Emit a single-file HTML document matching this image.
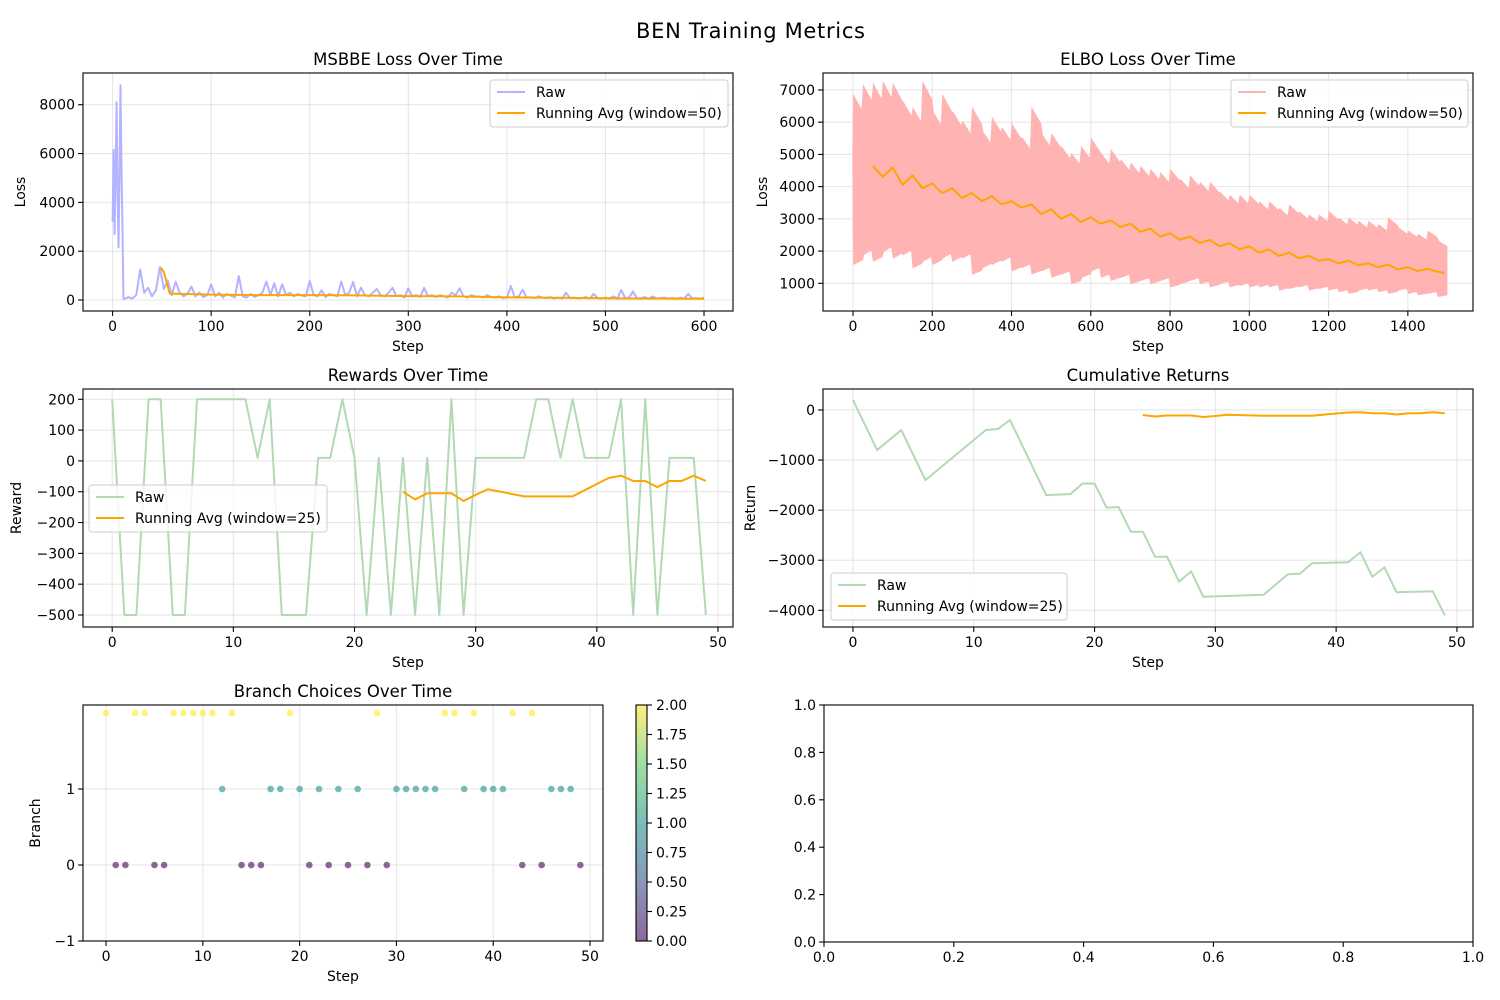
<!DOCTYPE html>
<html>
<head>
<meta charset="utf-8">
<style>
html,body{margin:0;padding:0;background:#fff;}
svg{display:block;font-family:"DejaVu Sans","Liberation Sans",sans-serif;}
</style>
</head>
<body>
<svg id="fig" width="1500" height="1000" viewBox="0 0 1500 1000" xmlns="http://www.w3.org/2000/svg">
<defs>
<linearGradient id="viridis" x1="0" y1="1" x2="0" y2="0">
<stop offset="0" stop-color="#440154"/>
<stop offset="0.25" stop-color="#3b528b"/>
<stop offset="0.5" stop-color="#21918c"/>
<stop offset="0.75" stop-color="#5ec962"/>
<stop offset="1" stop-color="#fde725"/>
</linearGradient>
</defs>
<text x="750.5" y="38" font-size="21" text-anchor="middle" textLength="229">BEN Training Metrics</text>
</svg>
<script>
// ---------- MSBBE data ----------
const msbbeEarlySteps = [0,1,2,3,4,5,6,7,8,9,10,11];
const msbbeEarlyVals = [3200,6150,2700,5000,8100,4500,2150,5000,8800,5500,3000,50];
const msbbeStepStart = 12, msbbeStepEvery = 4;
const msbbeVals = [
50,120,60,200,1250,300,500,150,400,1350,
450,800,200,750,300,150,250,550,150,300,
120,200,640,150,300,100,250,180,100,980,
150,100,250,120,200,300,760,200,680,150,
640,200,300,150,250,180,150,780,200,150,
400,120,250,200,150,750,200,300,740,150,
500,200,150,300,450,200,150,300,500,150,
200,100,480,150,200,120,500,150,200,120,
200,150,100,300,200,480,150,100,200,150,
150,100,200,120,100,150,80,100,570,100,
150,420,100,120,80,150,100,80,120,60,
100,60,300,80,100,60,80,120,60,250,
80,60,100,60,150,60,410,80,100,350,
60,80,120,50,150,60,80,100,60,80,
50,100,60,250,60,80,50,100];
const msbbeAvgSteps = [49,52,55,58,70,100,150,200,250,300,350,400,450,500,550,600];
const msbbeAvgVals = [1330,1150,700,260,250,220,200,200,190,160,150,110,90,70,60,50];

// ---------- ELBO data ----------
const elboBinStart = 0, elboBinEvery = 25;
const elboMax = [6800,7100,7150,7200,7150,6600,6400,7200,6300,6800,6300,6000,6400,5700,6100,5800,5900,5500,6400,5600,5600,5200,5000,5200,5450,5000,5100,4800,4700,4600,4500,4400,4500,4200,4300,4100,4100,3800,3700,3700,3700,3500,3500,3300,3400,3200,3100,3100,3200,3000,3000,2900,2900,2800,3000,2700,2600,2500,2600,2300];
const elboMin = [1600,1900,1700,2000,1800,1900,1500,1700,1600,1800,1700,1800,1300,1500,1600,1700,1400,1500,1300,1400,1200,1300,1000,1200,1400,1200,1100,1200,1000,1100,1000,1100,900,1000,1100,1000,900,1000,900,950,900,900,900,800,850,900,800,850,800,750,700,800,800,750,700,800,700,650,700,600];
const elboStart = [5000];
const elboAvgSteps = [50,75,100,125,150,175,200,225,250,275,300,325,350,375,400,425,450,475,500,525,550,575,600,625,650,675,700,725,750,775,800,825,850,875,900,925,950,975,1000,1025,1050,1075,1100,1125,1150,1175,1200,1225,1250,1275,1300,1325,1350,1375,1400,1425,1450,1475,1492];
const elboAvgVals = [4650,4300,4600,4050,4350,3950,4100,3800,3950,3650,3800,3550,3700,3450,3550,3350,3450,3150,3300,3000,3150,2900,3050,2850,2950,2750,2850,2600,2700,2450,2550,2350,2450,2250,2350,2150,2250,2050,2150,1950,2050,1850,1950,1780,1850,1700,1750,1620,1700,1560,1620,1500,1580,1430,1500,1380,1450,1360,1320];

// ---------- Rewards data ----------
const rewardVals = [200,-500,-500,200,200,-500,-500,200,200,200,200,200,10,200,-500,-500,-500,10,10,200,10,-500,10,-500,10,-500,10,-500,200,-500,10,10,10,10,10,200,200,10,200,10,10,10,200,-500,200,-500,10,10,10,-500];
const rewardAvgSteps = [24,25,26,27,28,29,30,31,34,35,36,37,38,39,40,41,42,43,44,45,46,47,48,49];
const rewardAvgVals = [-100,-125,-105,-105,-105,-130,-110,-92,-115,-115,-115,-115,-115,-95,-75,-55,-48,-65,-65,-85,-65,-65,-48,-65];

// ---------- Cumulative returns ----------
const cumSteps = [0,2,4,6,11,12,13,16,18,19,20,21,22,23,24,25,26,27,28,29,34,36,37,38,41,42,43,44,45,48,49];
const cumVals = [200,-800,-400,-1400,-400,-380,-200,-1700,-1680,-1470,-1470,-1950,-1940,-2430,-2430,-2930,-2930,-3430,-3220,-3730,-3690,-3280,-3270,-3060,-3040,-2840,-3330,-3140,-3640,-3620,-4100];
const cumAvgSteps = [24,25,26,27,28,29,30,31,34,38,40,41,42,43,44,45,46,47,48,49];
const cumAvgVals = [-100,-130,-110,-110,-110,-140,-120,-95,-115,-115,-70,-50,-45,-65,-65,-90,-65,-65,-45,-65];

// ---------- Branch choices ----------
const branchVals = [2,0,0,2,2,0,0,2,2,2,2,2,1,2,0,0,0,1,1,2,1,0,1,0,1,0,1,0,2,0,1,1,1,1,1,2,2,1,2,1,1,1,2,0,2,0,1,1,1,0];
const branchColors = ['#440154','#21918c','#fde725'];
const cbarTicks = ['0.00','0.25','0.50','0.75','1.00','1.25','1.50','1.75','2.00'];

// ---------- tick labels ----------
const t1x = ['0','100','200','300','400','500','600'];
const t1y = ['0','2000','4000','6000','8000'];
const t2x = ['0','200','400','600','800','1000','1200','1400'];
const t2y = ['1000','2000','3000','4000','5000','6000','7000'];
const t3x = ['0','10','20','30','40','50'];
const t3y = ['-500','-400','-300','-200','-100','0','100','200'];
const t4y = ['-4000','-3000','-2000','-1000','0'];
const t5y = ['-1','0','1'];
const t6 = ['0.0','0.2','0.4','0.6','0.8','1.0'];

const NS = 'http://www.w3.org/2000/svg';
const svg = document.getElementById('fig');
function mk(tag, attrs, parent){
  const e = document.createElementNS(NS, tag);
  for (const k in attrs) e.setAttribute(k, attrs[k]);
  (parent||svg).appendChild(e);
  return e;
}
let clipId = 0;
function makeAxes(name, f, lim, xt, yt, grid){
  const g = mk('g', {});
  
  
  const sx = v => f.x0 + (v - lim.x0) / (lim.x1 - lim.x0) * (f.x1 - f.x0);
  const sy = v => f.y1 - (v - lim.y0) / (lim.y1 - lim.y0) * (f.y1 - f.y0);
  // grid
  if (grid){
    xt.forEach(t => {
      const l = mk('line', {x1:sx(+t), x2:sx(+t), y1:f.y0, y2:f.y1, stroke:'#b0b0b0', 'stroke-opacity':0.3, 'stroke-width':1.1}, g);
      
      
    });
    yt.forEach(t => {
      const l = mk('line', {x1:f.x0, x2:f.x1, y1:sy(+t), y2:sy(+t), stroke:'#b0b0b0', 'stroke-opacity':0.3, 'stroke-width':1.1}, g);
      
      
    });
  }
  // ticks
  xt.forEach(t => {
    const x = sx(+t);
    const l = mk('line', {x1:x, x2:x, y1:f.y1, y2:f.y1+4.9, stroke:'#000', 'stroke-width':1.1}, g);
    
    
    const tx = mk('text', {x:x, y:f.y1+20, 'font-size':14, 'text-anchor':'middle'}, g);
    tx.textContent = t;
    
    
  });
  yt.forEach(t => {
    const y = sy(+t);
    const l = mk('line', {x1:f.x0-4.9, x2:f.x0, y1:y, y2:y, stroke:'#000', 'stroke-width':1.1}, g);
    
    
    const tx = mk('text', {x:f.x0-8, y:y+5, 'font-size':14, 'text-anchor':'end'}, g);
    tx.textContent = t.replace('-', '\u2212');
    
    
  });
  clipId++;
  const cp = mk('clipPath', {id:'cp'+clipId}, g);
  mk('rect', {x:f.x0, y:f.y0, width:f.x1-f.x0, height:f.y1-f.y0}, cp);
  const data = mk('g', {'clip-path':'url(#cp'+clipId+')'}, g);
  
  
  return {g, data, sx, sy, f};
}
function frame(ax){
  const f = ax.f;
  const r = mk('rect', {x:f.x0, y:f.y0, width:f.x1-f.x0, height:f.y1-f.y0, fill:'none', stroke:'#000', 'stroke-width':1.1}, ax.g);
  
  
}
function labels(ax, title, xl, yl, ylx){
  const f = ax.f, cx = (f.x0+f.x1)/2;
  const t = mk('text', {x:cx, y:f.y0-8, 'font-size':16.5, 'text-anchor':'middle'}, ax.g);
  t.textContent = title;
  
  
  if (xl){
    const x = mk('text', {x:cx, y:f.y1+40, 'font-size':14, 'text-anchor':'middle'}, ax.g);
    x.textContent = xl;
    
    
  }
  if (yl){
    const cy = (f.y0+f.y1)/2;
    const y = mk('text', {x:ylx, y:cy, 'font-size':14, 'text-anchor':'middle', transform:'rotate(-90 '+ylx+' '+cy+')'}, ax.g);
    y.textContent = yl;
    
    
  }
}
function line(ax, xs, ys, color, name){
  const pts = xs.map((x,i) => ax.sx(x).toFixed(2)+','+ax.sy(ys[i]).toFixed(2)).join(' ');
  const p = mk('polyline', {points:pts, fill:'none', stroke:color, 'stroke-width':2, 'stroke-linejoin':'round'}, ax.data);
  
  
  return p;
}
function legend(ax, x, y, w, rawColor, avgLabel){
  const lg = mk('g', {}, ax.g);
  
  
  mk('rect', {x:x, y:y, width:w, height:47, rx:3, fill:'#fff', 'fill-opacity':0.8, stroke:'#cccccc', 'stroke-width':1}, lg);
  const e1 = mk('g', {}, lg);
  
  
  mk('line', {x1:x+7, x2:x+35, y1:y+12, y2:y+12, stroke:rawColor, 'stroke-width':2}, e1);
  const t1 = mk('text', {x:x+46, y:y+17, 'font-size':14}, e1);
  t1.textContent = 'Raw';
  const e2 = mk('g', {}, lg);
  
  
  mk('line', {x1:x+7, x2:x+35, y1:y+33, y2:y+33, stroke:'#ffa500', 'stroke-width':2}, e2);
  const t2 = mk('text', {x:x+46, y:y+38, 'font-size':14}, e2);
  t2.textContent = avgLabel;
}

// ===== Subplot 1: MSBBE =====
const a1 = makeAxes('msbbe-loss-chart', {x0:83,x1:733,y0:73,y1:311}, {x0:-30.03,x1:629.4,y0:-450.6,y1:9300}, t1x, t1y, true);
{
  const xs = msbbeEarlySteps.slice(), ys = msbbeEarlyVals.slice();
  msbbeVals.forEach((v,i) => { xs.push(msbbeStepStart + i*msbbeStepEvery); ys.push(v); });
  line(a1, xs, ys, '#b3b3ff', 'msbbe-raw-line');
  line(a1, msbbeAvgSteps, msbbeAvgVals, '#ffa500', 'msbbe-running-avg-line');
}
frame(a1);
labels(a1, 'MSBBE Loss Over Time', 'Step', 'Loss', 25);
legend(a1, 490, 80, 238, '#b3b3ff', 'Running Avg (window=50)');

// ===== Subplot 2: ELBO =====
const a2 = makeAxes('elbo-loss-chart', {x0:823,x1:1473,y0:73,y1:311}, {x0:-75.7,x1:1564.4,y0:140,y1:7527}, t2x, t2y, true);
{
  const top = [], bot = [];
  top.push(a2.sx(0).toFixed(2)+','+a2.sy(elboStart[0]).toFixed(2));
  elboMax.forEach((v,i) => {
    const s = elboBinStart + i*elboBinEvery;
    top.push(a2.sx(s+2).toFixed(2)+','+a2.sy(v).toFixed(2));
    top.push(a2.sx(s+elboBinEvery-2).toFixed(2)+','+a2.sy(v*0.93).toFixed(2));
  });
  for (let i = elboMin.length-1; i >= 0; i--){
    const s = elboBinStart + i*elboBinEvery;
    bot.push(a2.sx(s+elboBinEvery-2).toFixed(2)+','+a2.sy(elboMin[i]*1.08).toFixed(2));
    bot.push(a2.sx(s+2).toFixed(2)+','+a2.sy(elboMin[i]).toFixed(2));
  }
  const p = mk('polygon', {points:top.concat(bot).join(' '), fill:'#ffb3b3', stroke:'#ffb3b3', 'stroke-width':1.5}, a2.data);
  
  
  line(a2, elboAvgSteps, elboAvgVals, '#ffa500', 'elbo-running-avg-line');
}
frame(a2);
labels(a2, 'ELBO Loss Over Time', 'Step', 'Loss', 767);
legend(a2, 1231, 80, 237, '#ffb3b3', 'Running Avg (window=50)');

// ===== Subplot 3: Rewards =====
const a3 = makeAxes('rewards-chart', {x0:83,x1:733,y0:389,y1:627}, {x0:-2.41,x1:51.24,y0:-539,y1:233.4}, t3x, t3y, true);
line(a3, rewardVals.map((v,i)=>i), rewardVals, '#b3d9b3', 'rewards-raw-line');
line(a3, rewardAvgSteps, rewardAvgVals, '#ffa500', 'rewards-running-avg-line');
frame(a3);
labels(a3, 'Rewards Over Time', 'Step', 'Reward', 21);
legend(a3, 89, 485, 238, '#b3d9b3', 'Running Avg (window=25)');

// ===== Subplot 4: Cumulative =====
const a4 = makeAxes('cumulative-returns-chart', {x0:823,x1:1473,y0:389,y1:627}, {x0:-2.48,x1:51.33,y0:-4333,y1:419}, t3x, t4y, true);
line(a4, cumSteps, cumVals, '#b3d9b3', 'cumulative-raw-line');
line(a4, cumAvgSteps, cumAvgVals, '#ffa500', 'cumulative-running-avg-line');
frame(a4);
labels(a4, 'Cumulative Returns', 'Step', 'Return', 755);
legend(a4, 831, 573, 236, '#b3d9b3', 'Running Avg (window=25)');

// ===== Subplot 5: Branch choices =====
const a5 = makeAxes('branch-choices-chart', {x0:83,x1:603,y0:705,y1:941}, {x0:-2.38,x1:51.34,y0:-1,y1:2.105}, t3x, t5y, true);
branchVals.forEach((b,i) => {
  const c = mk('circle', {cx:a5.sx(i), cy:a5.sy(b), r:3.3, fill:branchColors[b], 'fill-opacity':0.6}, a5.data);
  
  
});
frame(a5);
labels(a5, 'Branch Choices Over Time', 'Step', 'Branch', 40);

// colorbar
{
  const cb = mk('g', {});
  
  
  mk('rect', {x:636, y:705, width:11, height:236, fill:'url(#viridis)', 'fill-opacity':0.6}, cb);
  mk('rect', {x:636, y:705, width:11, height:236, fill:'none', stroke:'#000', 'stroke-width':1.1}, cb);
  cbarTicks.forEach(t => {
    const y = 941 - (+t)/2*236;
    const l = mk('line', {x1:647, x2:652, y1:y, y2:y, stroke:'#000', 'stroke-width':1.1}, cb);
    
    
    const tx = mk('text', {x:656, y:y+5, 'font-size':14}, cb);
    tx.textContent = t;
    
    
  });
}

// ===== Subplot 6: empty =====
const a6 = makeAxes('empty-axes', {x0:824,x1:1473,y0:705,y1:942}, {x0:0,x1:1,y0:0,y1:1}, t6, t6, false);
frame(a6);
</script>
</body>
</html>
